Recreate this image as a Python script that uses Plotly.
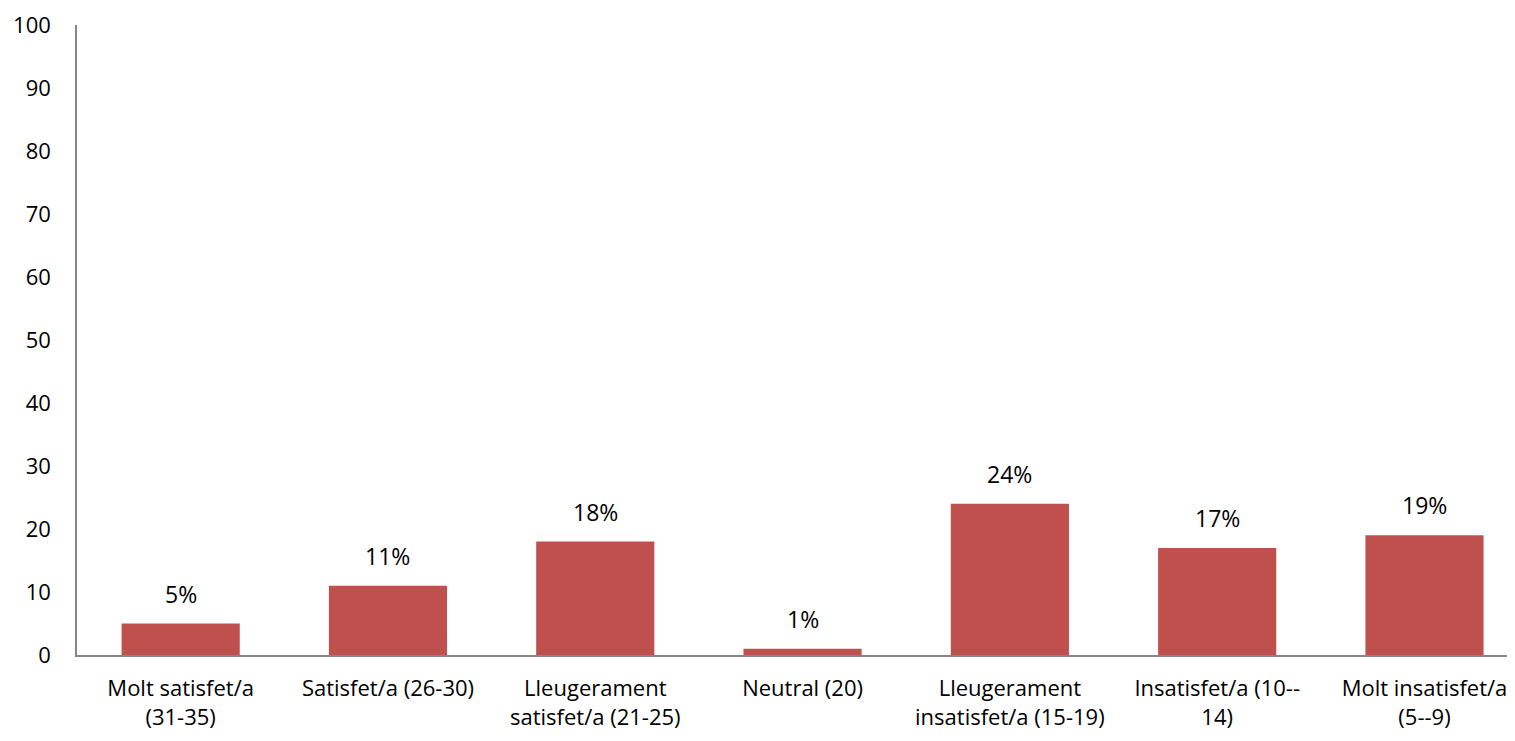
import plotly.graph_objects as go

categories = [
    "Molt satisfet/a<br>(31-35)",
    "Satisfet/a (26-30)",
    "Lleugerament<br>satisfet/a (21-25)",
    "Neutral (20)",
    "Lleugerament<br>insatisfet/a (15-19)",
    "Insatisfet/a (10--<br>14)",
    "Molt insatisfet/a<br>(5--9)",
]
values = [5, 11, 18, 1, 24, 17, 19]
labels = [f"{v}%" for v in values]
y_ticks = list(range(0, 101, 10))

FONT = "Open Sans, Segoe UI, sans-serif"
FS = 23
FSX = 22
FSY = 22

fig = go.Figure()
fig.add_trace(go.Bar(
    x=categories,
    y=values,
    marker=dict(color="#C0504D", line=dict(width=0)),
    showlegend=False,
    hoverinfo="x+y",
))

for c, v, t in zip(categories, values, labels):
    fig.add_annotation(
        x=c, y=v, text=t, showarrow=False,
        yanchor="bottom", yshift=12,
        font=dict(family=FONT, size=FS, color="#000000"),
    )

fig.update_layout(
    width=1499, height=725,
    margin=dict(l=69, r=0, t=17, b=78, autoexpand=False),
    paper_bgcolor="white", plot_bgcolor="white",
    bargap=0.43,
    font=dict(family=FONT, size=FS, color="#000000"),
    xaxis=dict(
        range=[-0.5, 6.398],
        showline=True, linecolor="#868686", linewidth=1.5,
        showgrid=False, ticks="", ticklabelstandoff=13,
        ticklabeloverflow="allow",
        tickfont=dict(family=FONT, size=FSX, color="#000000"),
    ),
    yaxis=dict(
        range=[0, 100], tickvals=y_ticks,
        showline=True, linecolor="#868686", linewidth=1.5,
        showgrid=False, zeroline=False, ticks="",
        ticklabelstandoff=20, ticklabeloverflow="allow",
        tickfont=dict(family=FONT, size=FSY, color="#000000"),
    ),
)

fig.write_html("out.html")
